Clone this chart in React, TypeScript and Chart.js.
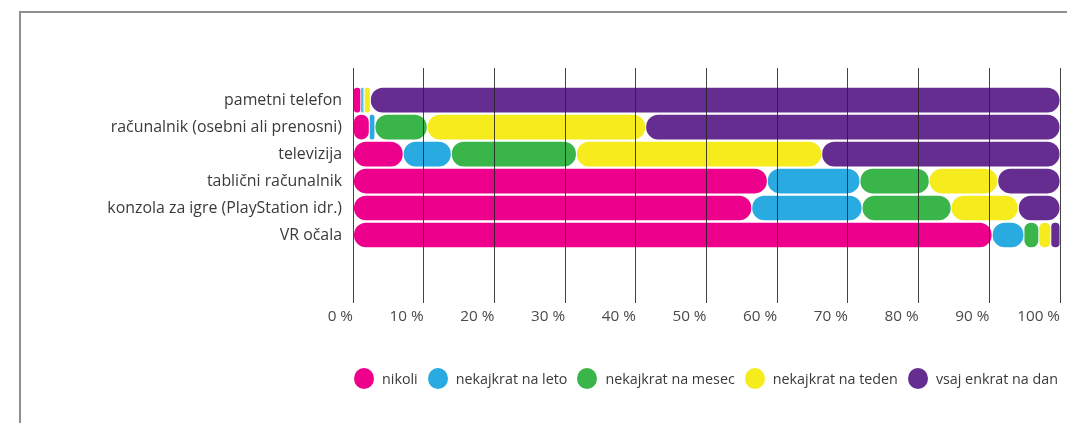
import React, { useEffect, useRef } from "react";
import { Chart, registerables } from "chart.js";

Chart.register(...registerables);

const categories = [
  "pametni telefon",
  "računalnik (osebni ali prenosni)",
  "televizija",
  "tablični računalnik",
  "konzola za igre (PlayStation idr.)",
  "VR očala",
];

const seriesNames = [
  "nikoli",
  "nekajkrat na leto",
  "nekajkrat na mesec",
  "nekajkrat na teden",
  "vsaj enkrat na dan",
];

const nikoli = [1.1, 2.3, 7.1, 58.6, 56.4, 90.4];
const nekajkratNaLeto = [0.35, 0.8, 6.8, 13.1, 15.6, 4.5];
const nekajkratNaMesec = [0.15, 7.4, 17.7, 9.8, 12.6, 2.1];
const nekajkratNaTeden = [0.85, 30.9, 34.7, 9.7, 9.5, 1.7];
const vsajEnkratNaDan = [97.55, 58.6, 33.7, 8.8, 5.9, 1.3];

const xTickValues = [0, 10, 20, 30, 40, 50, 60, 70, 80, 90, 100];

const colors = ["#EC008C", "#29ABE2", "#39B54A", "#F6EB1C", "#662D91"];

const FONT = "'Open Sans', 'DejaVu Sans', sans-serif";

export default function App() {
  const canvasRef = useRef<HTMLCanvasElement | null>(null);

  useEffect(() => {
    const canvas = canvasRef.current;
    if (!canvas) return;
    const series = [nikoli, nekajkratNaLeto, nekajkratNaMesec, nekajkratNaTeden, vsajEnkratNaDan];
    const r = 14;
    const chart = new Chart(canvas, {
      type: "bar",
      data: {
        datasets: series.map((vals, si) => ({
          label: seriesNames[si],
          data: vals.map((v, i) => ({ x: v, y: i })),
          backgroundColor: colors[si],
          borderColor: "#ffffff",
          borderWidth: 0.8,
          borderSkipped: false,
          borderRadius: { topLeft: r, topRight: r, bottomLeft: r, bottomRight: r },
          barThickness: 25.6,
        })),
      },
      options: {
        indexAxis: "y",
        animation: false,
        responsive: false,
        devicePixelRatio: 1,
        layout: { padding: { left: 0, right: 7, top: 68, bottom: 90 } },
        plugins: {
          legend: { display: false },
          tooltip: { enabled: false },
        },
        scales: {
          x: {
            type: "linear",
            stacked: true,
            min: 0,
            max: 100,
            bounds: "data",
            afterBuildTicks: (scale: any) => {
              scale.ticks = xTickValues.map((v) => ({ value: v }));
            },
            afterFit: (scale: any) => {
              scale.height = 30;
            },
            border: { display: false },
            grid: {
              z: 1,
              color: "rgba(35,35,35,0.85)",
              lineWidth: 1,
              drawTicks: false,
            },
            ticks: {
              align: "end",
              padding: 4,
              color: "#4a4a4a",
              font: { family: FONT, size: 15.3 },
              callback: (v: any) => `${v} %`,
              maxRotation: 0,
            },
          },
          y: {
            type: "linear",
            stacked: true,
            reverse: true,
            offset: false,
            bounds: "data",
            grace: 0,
            min: -1.19,
            max: 7.52,
            afterDataLimits: (scale: any) => {
              scale.min = -1.19;
              scale.max = 7.52;
            },
            afterBuildTicks: (scale: any) => {
              scale.ticks = categories.map((_, i) => ({ value: i }));
            },
            afterFit: (scale: any) => {
              scale.width = 353;
            },
            border: { display: false },
            grid: { display: false, drawTicks: false, offset: false },
            ticks: {
              padding: 11,
              color: "#3a3a3a",
              font: { family: FONT, size: 15.9 },
              callback: (v: any) => categories[v] ?? "",
            },
          },
        },
      },
    });
    return () => chart.destroy();
  }, []);

  return (
    <div
      style={{
        position: "fixed",
        left: 0,
        top: 0,
        width: 1067,
        height: 423,
        overflow: "hidden",
        background: "#ffffff",
      }}
    >
      <div
        style={{
          position: "absolute",
          left: 19,
          top: 11,
          width: 1200,
          height: 600,
          borderTop: "2px solid #8f8f8f",
          borderLeft: "2px solid #8f8f8f",
        }}
      />
      <canvas
        ref={canvasRef}
        width={1067}
        height={423}
        style={{ position: "absolute", left: 0, top: 0, width: 1067, height: 423 }}
      />
      <div
        style={{
          position: "absolute",
          left: 354,
          top: 368,
          display: "flex",
          alignItems: "center",
          fontFamily: FONT,
          fontSize: 14.3,
          color: "#3a3a3a",
          whiteSpace: "nowrap",
        }}
      >
        {seriesNames.map((name, i) => (
          <div key={name} style={{ display: "flex", alignItems: "center", marginRight: 10 }}>
            <span
              style={{
                display: "inline-block",
                width: 20,
                height: 21,
                borderRadius: "50%",
                background: colors[i],
                marginRight: 8,
              }}
            />
            <span>{name}</span>
          </div>
        ))}
      </div>
    </div>
  );
}
